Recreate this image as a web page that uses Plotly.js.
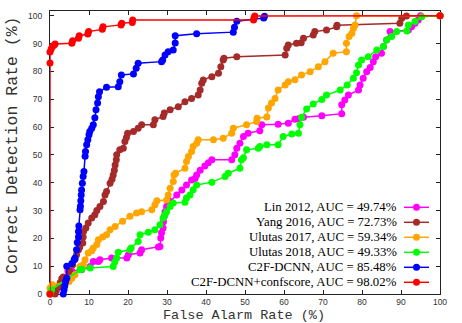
<!DOCTYPE html>
<html><head><meta charset="utf-8">
<script src="https://cdn.plot.ly/plotly-3.0.1.min.js"></script>
<style>html,body{margin:0;padding:0;background:#fff}#chart{width:462px;height:323px}</style>
</head><body><div id="chart"></div>
<script>
// ---- data ----
const seriesNames = ["Lin 2012, AUC = 49.74%", "Yang 2016, AUC = 72.73%", "Ulutas 2017, AUC = 59.34%",
  "Ulutas 2018, AUC = 49.33%", "C2F-DCNN, AUC = 85.48%", "C2F-DCNN+confscore, AUC = 98.02%"];
const seriesColors = ["#ff00ff", "#a52a2a", "#ffa500", "#00ff00", "#0000ff", "#ff0000"];

const linX = [0,1.5,2.5,4.3,4.6,5.6,8.1,10.3,11.1,12.4,12.8,15.8,19.7,20.1,23.1,23.5,27.8,28.2,28.4,28.6,29.0,29.1,29.3,29.5,29.9,30.3,30.8,32.5,33.8,35.0,36.3,37.2,37.6,38.5,39.7,40.6,41.5,46.6,47.4,47.9,48.7,49.6,50.8,53.8,54.3,58.5,61.1,62.8,63.7,65.0,69.7,74.8,74.8,75.6,76.5,79.1,79.5,80.3,81.2,82.1,82.9,83.5,85.0,85.5,86.3,87.2,91.9,92.7,93.6,94.4,95.0,100];
const linY = [0,1.5,2.5,6.0,8.3,8.3,8.7,9.9,11.7,11.7,12.3,12.9,12.9,14.1,14.7,15.9,16.9,17.1,20.1,22.0,23.7,26.0,27.9,29.6,31.4,32.7,33.2,35.6,37.4,39.2,41.0,41.5,42.8,44.5,46.0,47.2,48.2,48.2,50.0,52.4,54.2,56.6,57.8,58.7,60.8,61.0,61.4,62.8,63.0,63.5,64.1,64.8,68.0,69.7,71.5,73.3,75.1,77.5,79.9,81.4,83.5,85.3,86.5,88.9,91.3,94.3,94.9,96.0,97.3,98.5,100,100];

const yangX = [1.3,1.6,2.2,2.6,3.0,3.4,5.1,5.8,6.4,6.8,7.3,7.6,8.4,8.5,8.6,9.2,9.8,10.7,11.5,12.0,12.8,13.7,14.1,14.5,15.4,15.9,16.2,16.5,16.7,17.0,17.1,17.9,18.8,19.2,19.6,19.9,21.4,22.6,23.5,26.5,26.9,29.0,29.3,30.8,32.9,34.6,36.3,38.0,38.5,38.9,39.3,41.5,43.2,43.8,44.4,44.6,47.9,60.3,60.7,61.1,63.2,64.4,65.0,67.5,67.9,70.9,73.5,73.6,89.7,90.2,91.4,100];
const yangY = [0,1.2,2.5,4.0,5.5,6.1,8.1,10.5,12.5,14.1,15.9,16.8,18.3,20.5,22.5,23.7,25.5,27.3,28.5,30.0,31.4,33.2,35.6,36.8,39.8,41.2,42.8,44.5,46.4,48.2,50.0,51.8,52.4,54.8,56.2,57.8,58.4,59.6,60.8,60.8,62.6,63.8,65.0,66.2,67.3,69.1,70.3,71.5,73.3,75.7,76.9,78.1,79.3,81.7,84.1,84.7,85.3,85.9,88.3,89.5,90.1,90.3,91.9,93.1,94.3,94.9,96.0,96.6,97.3,99.1,99.9,100];

const ulutas17X = [0,0,0.6,4.9,5.6,6.4,7.7,8.5,9.0,9.8,10.7,11.1,12.0,12.4,13.5,14.5,15.4,16.7,18.6,20.5,22.2,23.5,26.1,26.9,27.4,29.9,30.3,30.8,31.6,31.8,32.2,34.6,35.0,35.5,36.3,36.7,37.6,38.0,41.9,44.4,46.6,47.0,50.4,53.0,53.1,55.6,56.0,56.8,57.7,58.5,60.3,61.1,62.8,64.5,66.7,68.8,70.5,72.6,76.0,76.0,76.7,77.4,77.8,78.2,78.6,100];
const ulutas17Y = [0.5,2.2,3.3,4.5,5.7,6.9,9.9,10.5,12.3,14.7,15.5,16.5,17.8,19.5,20.5,21.3,23.1,24.3,26.1,27.9,29.1,29.6,30.3,32.1,33.5,33.8,35.6,38.0,40.4,42.8,43.4,45.2,47.6,49.4,51.2,53.0,54.2,55.4,55.4,56.0,57.8,59.6,60.8,62.0,63.2,63.6,66.8,68.6,70.3,73.3,75.1,76.3,77.0,78.7,79.9,81.7,83.5,86.5,87.1,90.1,92.5,93.7,95.5,96.7,100,100];

const ulutas18X = [0,0.4,7.7,8.1,10.3,16.2,16.6,17.1,17.5,20.5,20.8,22.6,23.1,25.2,26.9,28.2,29.0,29.5,29.9,30.8,31.6,34.6,35.0,35.9,36.7,37.6,41.5,44.9,45.7,48.7,49.1,49.6,50.4,53.4,53.8,55.6,58.5,59.8,62.0,63.7,64.1,64.5,65.8,67.5,69.7,70.9,74.4,76.2,77.8,78.6,79.1,79.9,81.6,83.8,85.5,86.3,87.6,88.9,91.5,91.9,93.6,95.3,100];
const ulutas18Y = [0,1.5,8.7,8.9,9.3,9.9,11.5,12.9,15.0,15.9,16.5,18.9,21.3,22.2,23.1,24.9,27.3,28.5,29.6,31.4,32.7,33.0,34.5,35.6,37.5,39.2,40.2,42.2,43.4,45.2,48.2,49.0,51.8,52.4,53.0,53.6,53.6,56.6,57.5,57.8,60.8,63.5,66.5,68.3,69.9,71.5,73.3,75.1,77.5,79.5,82.3,84.1,85.3,87.7,88.9,91.3,92.5,94.3,94.5,96.7,97.9,99.6,100];

const c2fX = [3.4,3.6,3.8,4.0,4.3,4.3,5.6,6.2,6.4,6.8,7.0,7.3,7.3,7.4,7.7,7.8,7.9,8.0,8.1,8.3,8.5,8.7,9.0,9.1,9.4,9.7,10.0,10.2,10.7,11.1,11.5,11.8,12.2,12.4,12.7,14.5,17.5,17.9,18.3,21.4,22.1,22.6,28.6,28.9,29.5,30.3,31.6,32.1,32.1,37.6,47.0,47.3,47.9,54.8,55.0];
const c2fY = [0,1.5,3.0,4.5,5.7,10.0,11.0,12.3,12.9,15.9,18.5,20.5,22.5,24.4,30.3,31.5,33.5,35.6,37.4,39.8,42.2,44.0,49.5,51.2,53.6,55.4,57.2,58.4,59.6,60.8,63.3,66.2,68.6,70.9,72.7,74.3,74.5,76.3,78.7,79.1,81.1,82.9,83.5,84.1,85.9,87.1,87.7,90.2,92.8,93.5,94.1,95.9,98.0,99.2,99.8];

const confX = [0,0,0,0.3,0.6,1.0,1.3,5.6,5.8,7.3,7.5,9.7,9.9,13.4,13.6,18.2,18.4,21.1,21.2,52.2,52.3,52.5,100];
const confY = [0,83.0,87.0,88.0,88.9,89.4,89.8,90.1,91.0,91.9,92.8,93.4,94.3,95.1,96.0,96.7,97.3,97.6,98.5,98.5,99.2,99.9,100];

const tickVals = [0,10,20,30,40,50,60,70,80,90,100];
const xTitle = "False Alarm Rate (%)";
const yTitle = "Correct Detection Rate (%)";

// ---- plot ----
const xs = [linX, yangX, ulutas17X, ulutas18X, c2fX, confX];
const ys = [linY, yangY, ulutas17Y, ulutas18Y, c2fY, confY];
const traces = xs.map((x, i) => ({
  type: 'scatter', mode: 'lines+markers', x: x, y: ys[i], name: seriesNames[i],
  line: {color: seriesColors[i], width: 1.5},
  marker: {color: seriesColors[i], size: 7, symbol: 'circle'},
  cliponaxis: false, showlegend: false
}));

// legend drawn as annotations + shapes (text left, key right, as in the reference)
const plotL = 50, plotR = 440, plotT = 11, plotB = 294;
const px2x = p => (p - plotL) / (plotR - plotL);
const px2y = p => (plotB - p) / (plotB - plotT);
const annotations = [], shapes = [];
seriesNames.forEach((nm, i) => {
  const yy = px2y(207.3 + 15 * i);
  annotations.push({xref: 'paper', yref: 'paper', x: px2x(398), y: yy, xanchor: 'right', yanchor: 'middle',
    text: nm, showarrow: false, font: {family: 'Liberation Serif', size: 12.8, color: '#000'}, borderpad: 0});
  shapes.push({type: 'line', xref: 'paper', yref: 'paper', x0: px2x(404), x1: px2x(429), y0: yy, y1: yy,
    line: {color: seriesColors[i], width: 1.5}});
  shapes.push({type: 'circle', xref: 'paper', yref: 'paper', xsizemode: 'pixel', ysizemode: 'pixel',
    xanchor: px2x(416.5), yanchor: yy, x0: -3.5, x1: 3.5, y0: -3.5, y1: 3.5,
    fillcolor: seriesColors[i], line: {color: seriesColors[i], width: 0}});
});
// axis titles (placed as annotations so they can sit exactly where the reference has them)
annotations.push({xref: 'paper', yref: 'paper', x: px2x(244), y: px2y(315.3), xanchor: 'center', yanchor: 'middle',
  text: xTitle, showarrow: false, borderpad: 0, font: {family: 'Liberation Mono', size: 13.5, color: '#333'}});
annotations.push({xref: 'paper', yref: 'paper', x: px2x(13), y: px2y(146), xanchor: 'center', yanchor: 'middle',
  textangle: -90, text: yTitle, showarrow: false, borderpad: 0, font: {family: 'Liberation Mono', size: 16.5, color: '#333'}});

const axisCommon = {
  tickvals: tickVals, ticks: 'inside', ticklen: 4, tickwidth: 1, tickcolor: '#222',
  showline: true, linecolor: '#222', linewidth: 1, mirror: 'ticks',
  showgrid: false, zeroline: false, layer: 'below traces',
  tickfont: {family: 'Liberation Sans', size: 8.5, color: '#333'}
};
const layout = {
  width: 462, height: 323,
  margin: {l: 50, r: 22, t: 11, b: 29, pad: 0},
  paper_bgcolor: '#fff', plot_bgcolor: '#fff', showlegend: false,
  xaxis: Object.assign({}, axisCommon, {range: [0, 100], ticklabelstandoff: 0}),
  yaxis: Object.assign({}, axisCommon, {range: [0, 101.7], ticklabelstandoff: 5}),
  annotations: annotations, shapes: shapes
};
Plotly.newPlot('chart', traces, layout, {displayModeBar: false, staticPlot: true});
</script>
</body></html>
